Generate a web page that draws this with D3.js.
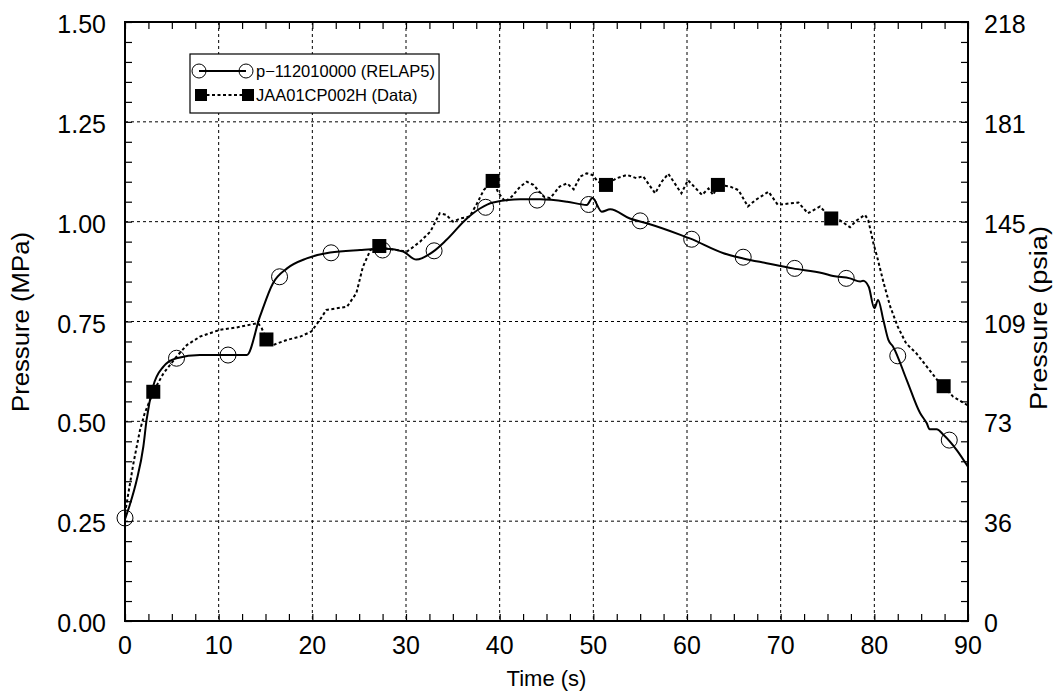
<!DOCTYPE html>
<html>
<head>
<meta charset="utf-8">
<script src="https://cdn.jsdelivr.net/npm/d3@7"></script>
<style>
  body { margin: 0; background: #fff; }
  svg { font-family: "Liberation Sans", Arial, sans-serif; }
</style>
</head>
<body>
<div id="chart"></div>
<script>
// RELAP5 calculation (solid line)
const relapTime = [0, 0.5, 1.25, 1.96, 2.3, 3.0, 4.1, 5.5, 8, 13, 14.4, 15.8, 17.3, 19.4, 21.9, 25.1, 27.9, 29.7, 31.1, 32.9, 34.3, 36.5, 37.9, 39.3, 42.2, 44.3, 47.2, 49.3, 49.9, 50.9, 51.8, 53.9, 55.7, 59.3, 60.3, 63.9, 66, 68.5, 71.3, 74.5, 75.6, 77.4, 78.5, 78.8, 79.4, 80.0, 80.4, 80.96, 81.5, 82.0, 83.45, 84.9, 85.6, 85.9, 86.65, 87.4, 88.8, 90];
const relapP = [0.255, 0.29, 0.353, 0.437, 0.503, 0.587, 0.637, 0.658, 0.666, 0.666, 0.762, 0.846, 0.883, 0.908, 0.923, 0.929, 0.932, 0.925, 0.905, 0.925, 0.954, 1.008, 1.033, 1.048, 1.056, 1.056, 1.05, 1.042, 1.059, 1.025, 1.031, 1.008, 0.996, 0.967, 0.958, 0.921, 0.908, 0.896, 0.883, 0.871, 0.864, 0.858, 0.85, 0.852, 0.837, 0.783, 0.804, 0.754, 0.704, 0.687, 0.604, 0.52, 0.495, 0.48, 0.48, 0.466, 0.428, 0.386];
const relapMarkT = [0, 5.5, 11, 16.5, 22, 27.5, 33, 38.5, 44, 49.5, 55, 60.5, 66, 71.5, 77, 82.5, 88];
const relapMarkP = [0.258, 0.658, 0.666, 0.862, 0.922, 0.929, 0.927, 1.036, 1.054, 1.043, 1.002, 0.956, 0.911, 0.883, 0.858, 0.664, 0.453];

// JAA01CP002H measured data (dotted line)
const dataTime = [0, 0.9, 1.6, 2.1, 3.02, 4.1, 5.5, 6.6, 8, 10.1, 11.9, 14.2, 14.6, 15.1, 15.8, 17.3, 18.7, 19.9, 20.8, 21.5, 22.6, 23.7, 24.7, 25.4, 26.2, 27.15, 27.9, 29.0, 30.1, 30.8, 31.5, 32.6, 33.6, 34.3, 35.0, 35.8, 36.8, 37.5, 38.3, 39.0, 39.25, 39.9, 40.6, 41.3, 42.2, 42.9, 43.6, 44.7, 45.4, 46.4, 47.2, 47.9, 48.6, 49.3, 49.9, 50.5, 51.35, 52.5, 53.6, 54.6, 55.3, 56.6, 57.3, 58.0, 59.4, 60.1, 61.6, 62.3, 62.8, 63.3, 64.6, 65.5, 66.5, 67.3, 68.7, 69.7, 71.0, 71.9, 72.9, 74.2, 75.4, 76.3, 77.4, 78.1, 79.0, 79.35, 79.9, 80.3, 81.0, 81.7, 82.5, 83.4, 84.5, 85.6, 86.7, 87.4, 88.4, 89.9, 90];
const dataP = [0.27, 0.395, 0.478, 0.52, 0.574, 0.62, 0.662, 0.691, 0.712, 0.729, 0.735, 0.746, 0.733, 0.705, 0.691, 0.704, 0.712, 0.725, 0.754, 0.779, 0.783, 0.787, 0.821, 0.887, 0.929, 0.939, 0.933, 0.929, 0.925, 0.937, 0.95, 0.975, 1.021, 1.017, 1.0, 1.008, 1.013, 1.042, 1.079, 1.096, 1.102, 1.071, 1.05, 1.063, 1.088, 1.1, 1.092, 1.063, 1.059, 1.088, 1.096, 1.081, 1.113, 1.121, 1.117, 1.1, 1.092, 1.109, 1.117, 1.109, 1.114, 1.071, 1.1, 1.12, 1.071, 1.104, 1.067, 1.083, 1.067, 1.092, 1.088, 1.079, 1.038, 1.054, 1.075, 1.042, 1.046, 1.048, 1.021, 1.038, 1.008, 1.004, 0.986, 1.003, 1.017, 1.004, 0.946, 0.912, 0.846, 0.787, 0.737, 0.695, 0.67, 0.637, 0.604, 0.588, 0.562, 0.541, 0.538];
const dataMarkT = [3.02, 15.1, 27.15, 39.25, 51.35, 63.3, 75.4, 87.4];
const dataMarkP = [0.574, 0.705, 0.939, 1.102, 1.092, 1.092, 1.008, 0.588];

// Axis ticks
const xTicks = [0, 10, 20, 30, 40, 50, 60, 70, 80, 90];
const yTicks = [0, 0.25, 0.5, 0.75, 1.0, 1.25, 1.5];
const psiaLabels = ["0", "36", "73", "109", "145", "181", "218"];

const margin = { top: 22, right: 92, bottom: 73, left: 125 };
const width = 1060 - margin.left - margin.right;
const height = 694 - margin.top - margin.bottom;

const svg = d3.select("#chart").append("svg")
    .attr("width", 1060)
    .attr("height", 694);
const g = svg.append("g")
    .attr("transform", `translate(${margin.left},${margin.top})`);

const x = d3.scaleLinear().domain([0, 90]).range([0, width]);
const y = d3.scaleLinear().domain([0, 1.5]).range([height, 0]);

// Grid
const grid = g.append("g").attr("stroke", "#000").attr("stroke-width", 1).attr("stroke-dasharray", "3,3");
grid.selectAll(".gx").data(xTicks.slice(1, -1)).join("line")
    .attr("x1", d => x(d)).attr("x2", d => x(d)).attr("y1", 0).attr("y2", height);
grid.selectAll(".gy").data(yTicks.slice(1, -1)).join("line")
    .attr("y1", d => y(d)).attr("y2", d => y(d)).attr("x1", 0).attr("x2", width);

// Axes with inward minor ticks
const minorX = d3.range(0, 90.01, 2.5);
const minorY = d3.range(0, 1.501, 0.05);
const tickLen = 7;

function noDomain(sel) { sel.select(".domain").remove(); sel.selectAll("text").remove(); }

g.append("g").attr("transform", `translate(0,${height})`)
    .call(d3.axisBottom(x).tickValues(minorX).tickSize(-tickLen).tickFormat(""))
    .call(noDomain);
g.append("g")
    .call(d3.axisTop(x).tickValues(minorX).tickSize(-tickLen).tickFormat(""))
    .call(noDomain);
g.append("g")
    .call(d3.axisLeft(y).tickValues(minorY).tickSize(-tickLen).tickFormat(""))
    .call(noDomain);
g.append("g").attr("transform", `translate(${width},0)`)
    .call(d3.axisRight(y).tickValues(minorY).tickSize(-tickLen).tickFormat(""))
    .call(noDomain);
g.selectAll(".tick line").attr("stroke", "#000").attr("stroke-width", 1.2);

// Tick labels
const labelFont = 25;
g.append("g").selectAll("text").data(xTicks).join("text")
    .attr("x", d => x(d)).attr("y", height + 32.5)
    .attr("text-anchor", "middle").attr("font-size", labelFont)
    .text(d => d);
g.append("g").selectAll("text").data(yTicks).join("text")
    .attr("x", -19).attr("y", d => y(d) + 11)
    .attr("text-anchor", "end").attr("font-size", labelFont)
    .text(d => d3.format(".2f")(d));
g.append("g").selectAll("text").data(yTicks).join("text")
    .attr("x", width + 16).attr("y", d => y(d) + 11)
    .attr("text-anchor", "start").attr("font-size", labelFont)
    .text((d, i) => psiaLabels[i]);

// Axis titles
svg.append("text")
    .attr("x", margin.left + width / 2).attr("y", 686)
    .attr("text-anchor", "middle").attr("font-size", 22)
    .text("Time (s)");
svg.append("text")
    .attr("transform", "translate(29,322) rotate(-90)")
    .attr("text-anchor", "middle").attr("font-size", 23)
    .attr("textLength", 180).attr("lengthAdjust", "spacingAndGlyphs")
    .text("Pressure (MPa)");
svg.append("text")
    .attr("transform", "translate(1047,318) rotate(-90)")
    .attr("text-anchor", "middle").attr("font-size", 23)
    .attr("textLength", 184).attr("lengthAdjust", "spacingAndGlyphs")
    .text("Pressure (psia)");

// Lines
const relap = relapTime.map((t, i) => [t, relapP[i]]);
const meas = dataTime.map((t, i) => [t, dataP[i]]);
const line = d3.line().x(d => x(d[0])).y(d => y(d[1]));

g.append("path").datum(meas)
    .attr("fill", "none").attr("stroke", "#000").attr("stroke-width", 2)
    .attr("stroke-dasharray", "3,2.5")
    .attr("d", line);
g.append("path").datum(relap)
    .attr("fill", "none").attr("stroke", "#000").attr("stroke-width", 2)
    .attr("d", line.curve(d3.curveMonotoneX));

// Markers
g.append("g").selectAll("circle").data(relapMarkT).join("circle")
    .attr("cx", d => x(d)).attr("cy", (d, i) => y(relapMarkP[i])).attr("r", 8)
    .attr("fill", "none").attr("stroke", "#000").attr("stroke-width", 1);
g.append("g").selectAll("rect").data(dataMarkT).join("rect")
    .attr("x", d => x(d) - 7).attr("y", (d, i) => y(dataMarkP[i]) - 7)
    .attr("width", 14).attr("height", 14).attr("fill", "#000");

// Frame
g.append("rect").attr("width", width).attr("height", height)
    .attr("fill", "none").attr("stroke", "#000").attr("stroke-width", 2);

// Legend
const legend = svg.append("g").attr("transform", "translate(190,54)");
const legendBox = legend.append("rect").attr("height", 59)
    .attr("fill", "#fff").attr("stroke", "#000").attr("stroke-width", 1.2);
const rowY = [17, 41];
legend.append("line").attr("x1", 9).attr("x2", 56).attr("y1", rowY[0]).attr("y2", rowY[0])
    .attr("stroke", "#000").attr("stroke-width", 2);
[9, 56].forEach(cx => legend.append("circle").attr("cx", cx).attr("cy", rowY[0]).attr("r", 7)
    .attr("fill", "none").attr("stroke", "#000").attr("stroke-width", 1));
legend.append("line").attr("x1", 11).attr("x2", 58).attr("y1", rowY[1]).attr("y2", rowY[1])
    .attr("stroke", "#000").attr("stroke-width", 2).attr("stroke-dasharray", "3,2.5");
[11, 58].forEach(cx => legend.append("rect").attr("x", cx - 6).attr("y", rowY[1] - 6)
    .attr("width", 12).attr("height", 12).attr("fill", "#000"));
const legendText = legend.selectAll(".lt").data(["p\u2212112010000 (RELAP5)", "JAA01CP002H (Data)"]).join("text")
    .attr("x", 66).attr("y", (d, i) => rowY[i]).attr("dy", "0.36em")
    .attr("font-size", 16.5).text(d => d);
const textW = d3.max(legendText.nodes(), n => n.getComputedTextLength());
legendBox.attr("width", 66 + textW + 4);
</script>
</body>
</html>
